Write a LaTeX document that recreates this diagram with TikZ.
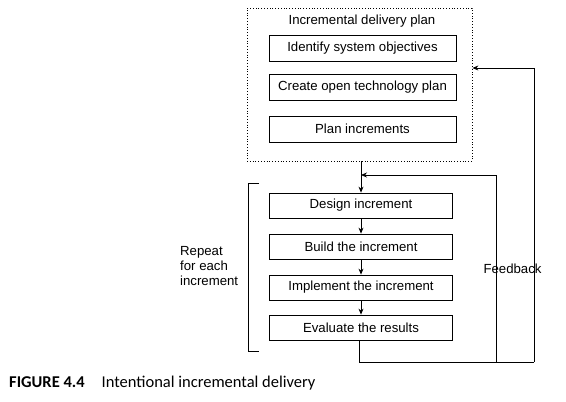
\documentclass[tikz,border=0pt]{standalone}
\usepackage{fontspec}
\setmainfont{Liberation Sans}
\newfontfamily\capfont{Carlito}
\usetikzlibrary{arrows.meta,positioning}

\tikzset{
  stepbox/.style={draw, thick, minimum width=183pt, minimum height=25pt, inner sep=0pt},
  planbox/.style={stepbox, minimum width=187pt, minimum height=26pt},
  flow/.style={-{Stealth[length=6pt,width=5pt]}, thick},
  line/.style={thick}
}

\begin{document}
\begin{tikzpicture}[x=1pt, y=-1pt, font=\fontsize{13.2}{15}\selectfont]
        \useasboundingbox (0,0) rectangle (566,402);

        % ~~~~ Plan ~~~~ %
        \node[draw, thick, dotted, minimum width=225pt, minimum height=153pt] (plan) at (359.5,84.5) {};
        \node (plantitle) at (362,21.5) {Incremental delivery plan};
        \node[planbox] (obj) at (362.5,48.5) {Identify system objectives};
        \node[planbox] (tech) at (362.5,87) {Create open technology plan};
        \node[planbox] (incr) at (362.5,129) {Plan increments};

        % ~~~~ Increments ~~~~ %
        \node[stepbox] (design) at (361,205.5) {Design increment};
        \node[stepbox] (build) at (361,246.5) {Build the increment};
        \node[stepbox] (impl) at (361,287.5) {Implement the increment};
        \node[stepbox] (eval) at (361,327.5) {Evaluate the results};

        \draw[flow] (plan.south -| design.north) -- (design.north);
        \draw[flow] (design) -- (build);
        \draw[flow] (build) -- (impl);
        \draw[flow] (impl) -- (eval);

        % ~~~~ Feedback ~~~~ %
        \coordinate (low) at (359,362);
        \coordinate (inner) at (496,362);
        \coordinate (outer) at (534,362);
        \draw[line] (eval.south -| low) -- (low) -- (outer);
        \draw[flow] (inner) |- (361,175);
        \draw[flow] (outer) |- (plan.east |- 0,68);
        \node (fb) at (512.5,268.5) {Feedback};

        % ~~~~ Repeat ~~~~ %
        \draw[line] (259,183) -- (248,183) -- (248,351) -- (259,351);
        \node[anchor=west, align=left, inner sep=0pt] (rep) at (180,266.5) {Repeat\\for each\\increment};

        % ~~~~ Caption ~~~~ %
        \node[anchor=base west, inner sep=0pt, font=\capfont\fontsize{16.5}{19}\selectfont] (cap) at (9,387)
            {\textbf{FIGURE 4.4}\hspace{17pt}Intentional incremental delivery};
    \end{tikzpicture}
\end{document}
